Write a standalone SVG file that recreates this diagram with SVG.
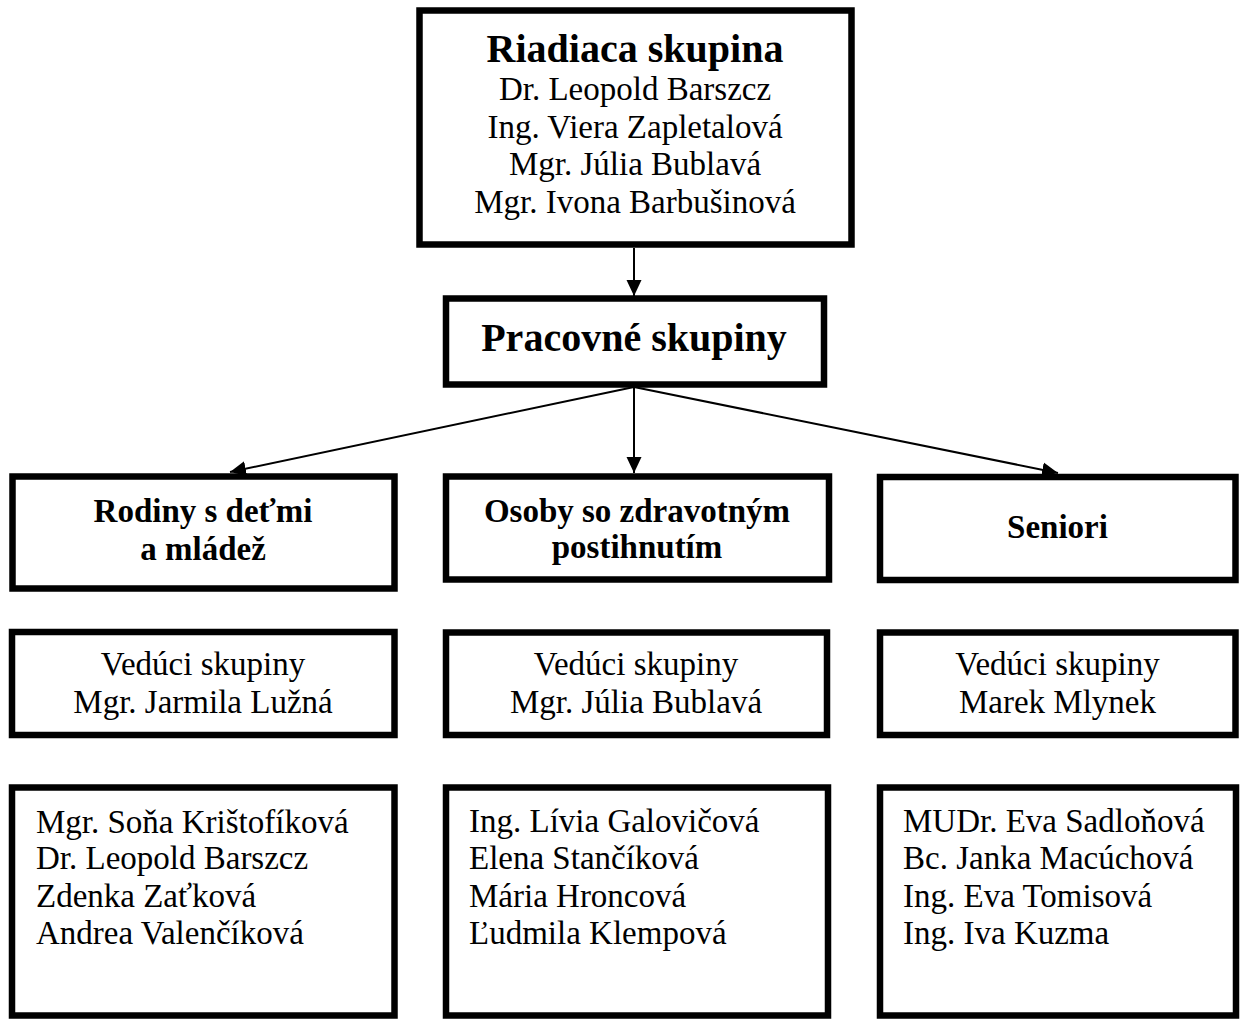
<svg xmlns="http://www.w3.org/2000/svg" width="1240" height="1019" viewBox="0 0 1240 1019">
<style>
.box{fill:#fff;stroke:#000;stroke-width:6.5}
.t{font-family:"Liberation Serif","Times New Roman",serif;fill:#000}
.r{font-size:33px}
.b{font-weight:bold}
.h{font-size:40px}
.s{font-size:33px}
.c{text-anchor:middle}
.conn{stroke:#000;stroke-width:2;fill:none;marker-end:url(#ah)}
</style>
<defs>
<marker id="ah" markerUnits="userSpaceOnUse" markerWidth="17" markerHeight="17" viewBox="0 0 17 17" refX="16" refY="8.5" orient="auto">
<path d="M0,1 L16,8.5 L0,16 Z" fill="#000"/>
</marker>
</defs>
<rect width="1240" height="1019" fill="#fff"/>
<g id="connectors">
<line class="conn" x1="634" y1="248" x2="634" y2="296"/>
<line class="conn" x1="634" y1="387" x2="634" y2="473"/>
<line class="conn" x1="634" y1="387" x2="230" y2="472"/>
<line class="conn" x1="634" y1="387" x2="1058" y2="473"/>
</g>
<g id="riadiaca">
<rect class="box" x="419.5" y="10.5" width="432" height="234"/>
<text class="t b h c" x="635" y="62">Riadiaca skupina</text>
<text class="t r c" x="635" y="100">Dr. Leopold Barszcz</text>
<text class="t r c" x="635" y="137.5">Ing. Viera Zapletalová</text>
<text class="t r c" x="635" y="175">Mgr. Júlia Bublavá</text>
<text class="t r c" x="635" y="213">Mgr. Ivona Barbušinová</text>
</g>
<g id="pracovne">
<rect class="box" x="446" y="298.5" width="378" height="86"/>
<text class="t b h c" x="634" y="351">Pracovné skupiny</text>
</g>
<g id="rodiny">
<rect class="box" x="12.5" y="476.5" width="382" height="112"/>
<text class="t b s c" x="203" y="522">Rodiny s deťmi</text>
<text class="t b s c" x="203" y="560">a mládež</text>
</g>
<g id="osoby">
<rect class="box" x="446" y="476.5" width="383" height="103"/>
<text class="t b s c" x="637" y="522">Osoby so zdravotným</text>
<text class="t b s c" x="637" y="558">postihnutím</text>
</g>
<g id="seniori">
<rect class="box" x="880" y="477" width="355.5" height="103"/>
<text class="t b s c" x="1057.5" y="538">Seniori</text>
</g>
<g id="veduci1">
<rect class="box" x="12" y="632" width="382.5" height="103"/>
<text class="t r c" x="203" y="675">Vedúci skupiny</text>
<text class="t r c" x="203" y="713">Mgr. Jarmila Lužná</text>
</g>
<g id="veduci2">
<rect class="box" x="446" y="632.5" width="381" height="102.5"/>
<text class="t r c" x="636" y="675">Vedúci skupiny</text>
<text class="t r c" x="636" y="713">Mgr. Júlia Bublavá</text>
</g>
<g id="veduci3">
<rect class="box" x="880" y="632.5" width="355.5" height="102.5"/>
<text class="t r c" x="1057.5" y="675">Vedúci skupiny</text>
<text class="t r c" x="1057.5" y="713">Marek Mlynek</text>
</g>
<g id="clenovia1">
<rect class="box" x="12" y="787.5" width="382.5" height="228"/>
<text class="t r" x="36" y="833">Mgr. Soňa Krištofíková</text>
<text class="t r" x="36" y="869">Dr. Leopold Barszcz</text>
<text class="t r" x="36" y="907">Zdenka Zaťková</text>
<text class="t r" x="36" y="944">Andrea Valenčíková</text>
</g>
<g id="clenovia2">
<rect class="box" x="446" y="787.5" width="382" height="228"/>
<text class="t r" x="469" y="832">Ing. Lívia Galovičová</text>
<text class="t r" x="469" y="869">Elena Stančíková</text>
<text class="t r" x="469" y="907">Mária Hroncová</text>
<text class="t r" x="469" y="944">Ľudmila Klempová</text>
</g>
<g id="clenovia3">
<rect class="box" x="880" y="787.5" width="356" height="228"/>
<text class="t r" x="903" y="832">MUDr. Eva Sadloňová</text>
<text class="t r" x="903" y="869">Bc. Janka Macúchová</text>
<text class="t r" x="903" y="907">Ing. Eva Tomisová</text>
<text class="t r" x="903" y="944">Ing. Iva Kuzma</text>
</g>
</svg>
